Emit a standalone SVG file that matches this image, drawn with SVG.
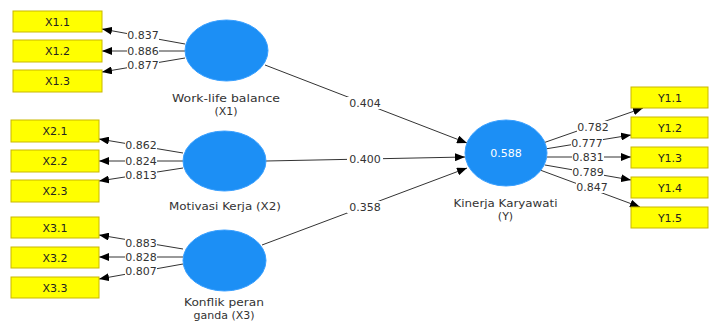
<svg xmlns="http://www.w3.org/2000/svg" width="709" height="322" viewBox="0 0 709 322">
<defs>
<marker id="ah" markerWidth="10" markerHeight="8" refX="10" refY="4" orient="auto" markerUnits="userSpaceOnUse">
<path d="M0,0 L10,4 L0,8 z" fill="#000"/>
</marker>
<style>
.box{fill:#ffff00;stroke:#c9b800;stroke-width:1}
.lv{fill:#1c8ff5;stroke:#3aa0ff;stroke-width:1}
.ind{font-family:"DejaVu Sans","Noto Sans",sans-serif;font-size:11px;fill:#222;text-anchor:middle}
.nl{font-family:"DejaVu Sans","Noto Sans",sans-serif;font-size:11px;fill:#333;text-anchor:middle}
.cl{font-family:"DejaVu Sans","Noto Sans",sans-serif;font-size:11px;fill:#333;text-anchor:middle}
.ln{stroke:#333;stroke-width:1;fill:none;marker-end:url(#ah)}
.bg{fill:#fff}
</style>
</defs>
<rect width="709" height="322" fill="#fff"/>
<g id="connectors">
<line class="ln" x1="185" y1="44" x2="102" y2="29"/>
<line class="ln" x1="185" y1="51" x2="102" y2="51"/>
<line class="ln" x1="185" y1="58" x2="102" y2="72"/>
<line class="ln" x1="183" y1="153" x2="99" y2="139"/>
<line class="ln" x1="183" y1="161" x2="99" y2="161"/>
<line class="ln" x1="183" y1="168" x2="99" y2="181"/>
<line class="ln" x1="183" y1="249" x2="99" y2="235"/>
<line class="ln" x1="183" y1="257" x2="99" y2="257"/>
<line class="ln" x1="183" y1="264" x2="99" y2="279"/>
<line class="ln" x1="265" y1="65" x2="467" y2="143"/>
<line class="ln" x1="266" y1="161" x2="465" y2="157"/>
<line class="ln" x1="262" y1="245" x2="467" y2="168"/>
<line class="ln" x1="543" y1="143" x2="643" y2="108"/>
<line class="ln" x1="545" y1="149" x2="631" y2="135"/>
<line class="ln" x1="547" y1="157" x2="631" y2="157"/>
<line class="ln" x1="545" y1="165" x2="631" y2="180"/>
<line class="ln" x1="540" y1="170" x2="640" y2="207"/>
<g id="coef-labels">
<rect class="bg" x="127" y="29" width="32" height="12"/><text class="cl" x="143" y="39">0.837</text>
<rect class="bg" x="127" y="45" width="32" height="12"/><text class="cl" x="143" y="55">0.886</text>
<rect class="bg" x="127" y="59" width="32" height="12"/><text class="cl" x="143" y="69">0.877</text>
<rect class="bg" x="125" y="139" width="32" height="12"/><text class="cl" x="141" y="149">0.862</text>
<rect class="bg" x="125" y="155" width="32" height="12"/><text class="cl" x="141" y="165">0.824</text>
<rect class="bg" x="125" y="169" width="32" height="12"/><text class="cl" x="141" y="179">0.813</text>
<rect class="bg" x="125" y="237" width="32" height="12"/><text class="cl" x="141" y="247">0.883</text>
<rect class="bg" x="125" y="251" width="32" height="12"/><text class="cl" x="141" y="261">0.828</text>
<rect class="bg" x="125" y="265" width="32" height="12"/><text class="cl" x="141" y="275">0.807</text>
<rect class="bg" x="347" y="97" width="36" height="12"/><text class="cl" x="365" y="107">0.404</text>
<rect class="bg" x="347" y="153" width="36" height="12"/><text class="cl" x="365" y="163">0.400</text>
<rect class="bg" x="347" y="201" width="36" height="12"/><text class="cl" x="365" y="211">0.358</text>
<rect class="bg" x="577" y="121" width="32" height="12"/><text class="cl" x="593" y="131">0.782</text>
<rect class="bg" x="571" y="137" width="32" height="12"/><text class="cl" x="587" y="147">0.777</text>
<rect class="bg" x="572" y="151" width="32" height="12"/><text class="cl" x="588" y="161">0.831</text>
<rect class="bg" x="572" y="166" width="32" height="12"/><text class="cl" x="588" y="176">0.789</text>
<rect class="bg" x="576" y="181" width="32" height="12"/><text class="cl" x="592" y="191">0.847</text>
</g>
</g>
<g id="X1.1"><rect class="box" x="13" y="11" width="89" height="21"/><text class="ind" x="57.5" y="26">X1.1</text></g>
<g id="X1.2"><rect class="box" x="13" y="40" width="89" height="22"/><text class="ind" x="57.5" y="55">X1.2</text></g>
<g id="X1.3"><rect class="box" x="13" y="70" width="89" height="22"/><text class="ind" x="57.5" y="85">X1.3</text></g>
<g id="X2.1"><rect class="box" x="11" y="120" width="88" height="22"/><text class="ind" x="55" y="135">X2.1</text></g>
<g id="X2.2"><rect class="box" x="11" y="150" width="88" height="22"/><text class="ind" x="55" y="165">X2.2</text></g>
<g id="X2.3"><rect class="box" x="11" y="180" width="88" height="22"/><text class="ind" x="55" y="195">X2.3</text></g>
<g id="X3.1"><rect class="box" x="11" y="217" width="88" height="21"/><text class="ind" x="55" y="232">X3.1</text></g>
<g id="X3.2"><rect class="box" x="11" y="247" width="88" height="21"/><text class="ind" x="55" y="262">X3.2</text></g>
<g id="X3.3"><rect class="box" x="11" y="277" width="88" height="21"/><text class="ind" x="55" y="292">X3.3</text></g>
<g id="Y1.1"><rect class="box" x="631" y="87" width="77" height="21"/><text class="ind" x="670" y="102">Y1.1</text></g>
<g id="Y1.2"><rect class="box" x="631" y="117" width="77" height="21"/><text class="ind" x="670" y="132">Y1.2</text></g>
<g id="Y1.3"><rect class="box" x="631" y="147" width="77" height="21"/><text class="ind" x="670" y="162">Y1.3</text></g>
<g id="Y1.4"><rect class="box" x="631" y="177" width="77" height="21"/><text class="ind" x="670" y="192">Y1.4</text></g>
<g id="Y1.5"><rect class="box" x="631" y="207" width="77" height="21"/><text class="ind" x="670" y="222">Y1.5</text></g>
<g id="X1"><ellipse class="lv" cx="226.5" cy="50.5" rx="41.5" ry="30.5"/><text class="nl" x="226" y="102" textLength="108" lengthAdjust="spacingAndGlyphs">Work-life balance</text><text class="nl" x="226" y="115">(X1)</text></g>
<g id="X2"><ellipse class="lv" cx="224.5" cy="161" rx="41.5" ry="30"/><text class="nl" x="225" y="210" textLength="112" lengthAdjust="spacingAndGlyphs">Motivasi Kerja (X2)</text></g>
<g id="X3"><ellipse class="lv" cx="224.5" cy="260.5" rx="41.5" ry="30.5"/><text class="nl" x="224" y="306" textLength="80" lengthAdjust="spacingAndGlyphs">Konflik peran</text><text class="nl" x="224" y="319">ganda (X3)</text></g>
<g id="Y"><ellipse class="lv" cx="506" cy="153" rx="41" ry="33"/><text class="nl" x="506" y="157" style="fill:#fff">0.588</text><text class="nl" x="505.5" y="207" textLength="104" lengthAdjust="spacingAndGlyphs">Kinerja Karyawati</text><text class="nl" x="505.5" y="220">(Y)</text></g>
</svg>
